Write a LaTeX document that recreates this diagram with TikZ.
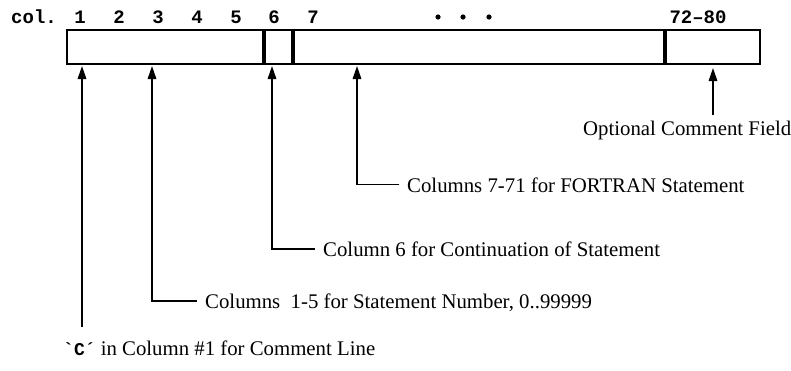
\documentclass[tikz,border=0pt]{standalone}
\usepackage{fontspec}
\setmainfont{Liberation Serif}
\setmonofont{Liberation Mono}
\usetikzlibrary{arrows.meta}
\tikzset{
  ptr/.style={line width=1.6pt, -{Triangle[width=8.5pt,length=13pt]}},
  lbl/.style={font=\fontsize{20.8}{22}\selectfont, inner sep=0pt, anchor=base west},
  colnum/.style={font=\fontsize{19}{21}\ttfamily\bfseries, inner sep=0pt, anchor=base},
  frame/.style={line width=1.6pt},
  divider/.style={line width=3.6pt},
}
\begin{document}
\begin{tikzpicture}[x=1pt,y=-1pt]
  \useasboundingbox (0,0) rectangle (791,370);

  % column ruler above the card
  \node[colnum, anchor=base west] (col) at (11,23) {col.};
  \node[colnum] (c1) at (80,23) {1};
  \node[colnum] (c2) at (119,23) {2};
  \node[colnum] (c3) at (158,23) {3};
  \node[colnum] (c4) at (197,23) {4};
  \node[colnum] (c5) at (236,23) {5};
  \node[colnum] (c6) at (274,23) {6};
  \node[colnum] (c7) at (313,23) {7};
  \node[colnum] (c72) at (698,23) {72–80};
  \foreach \x in {438,463,489}
    \fill (\x,17) circle (2.6);

  % the card with its field dividers
  \draw[frame] (67,30) rectangle (760,64);
  \draw[divider] (264,30) -- (264,64);
  \draw[divider] (293,30) -- (293,64);
  \draw[divider] (665,30) -- (665,64);

  % arrow tips under the card
  \coordinate (t1) at (82,66);
  \coordinate (t2) at (152,66);
  \coordinate (t3) at (272,66);
  \coordinate (t4) at (357,66);
  \coordinate (t5) at (713,68);

  % field descriptions
  \node[lbl] (opt) at (583,135) {Optional Comment Field};
  \node[lbl] (stm) at (407,192) {Columns 7-71 for FORTRAN Statement};
  \node[lbl] (cont) at (323,256) {Column 6 for Continuation of Statement};
  \node[lbl] (num) at (205,308) {Columns \ 1-5 for Statement Number, 0..99999};
  \node[lbl] (cmt) at (63,355) {{\fontsize{18}{19}\ttfamily\bfseries`C´} in Column \#1 for Comment Line};
  \coordinate (b1) at (82,327);

  % connectors
  \draw[ptr] ([xshift=-8pt,yshift=7.5pt]stm.base west) -| (t4);
  \draw[ptr] ([xshift=-8pt,yshift=7pt]cont.base west) -| (t3);
  \draw[ptr] ([xshift=-8pt,yshift=7pt]num.base west) -| (t2);
  \draw[ptr] (b1) -- (t1);
  \draw[ptr] ([yshift=5pt]t5 |- opt.north) -- (t5);
\end{tikzpicture}
\end{document}
